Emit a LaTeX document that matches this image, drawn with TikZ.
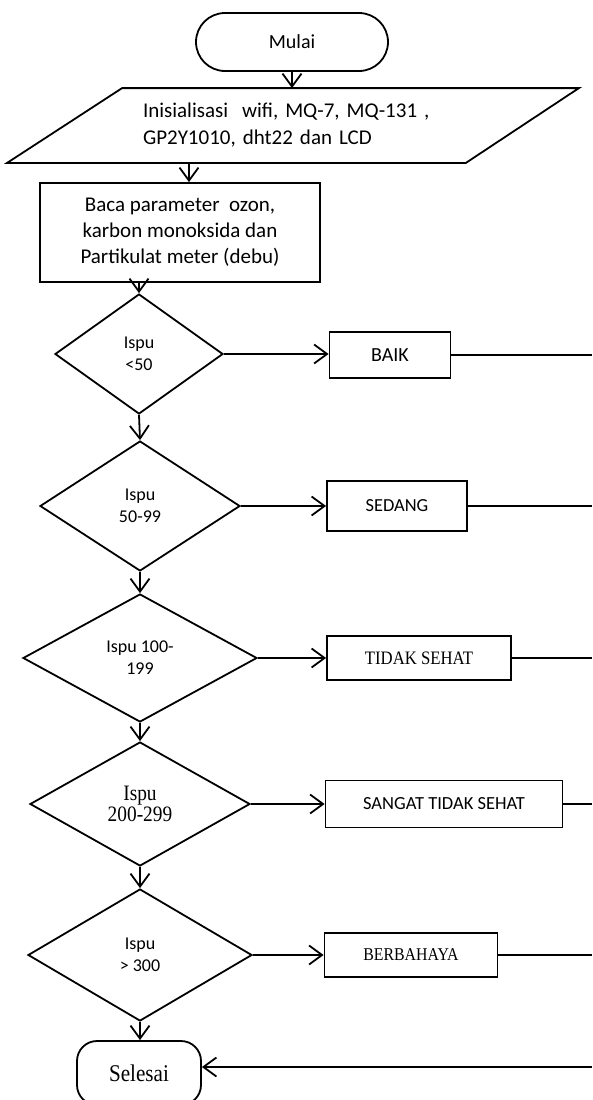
\documentclass[tikz,border=0pt]{standalone}
\usepackage{fontspec}
\setmainfont{Carlito}
\newfontfamily\cambriaish[FakeStretch=0.88]{Liberation Serif}
\usetikzlibrary{shapes.geometric,shapes.misc,arrows.meta}
\begin{document}
\begin{tikzpicture}[x=1pt,y=-1pt,line width=1.8pt,
  box/.style={draw, rectangle, inner sep=0pt, align=center},
  term/.style={draw, rounded rectangle, inner sep=0pt, align=center},
  endbox/.style={draw, rectangle, rounded corners=20pt, inner sep=0pt, align=center},
  dec/.style={draw, diamond, inner sep=0pt, align=center},
  arr/.style={-{Straight Barb[length=13pt,width=19pt]}},
  calA/.style={font=\fontsize{21}{26}\selectfont},
  calB/.style={font=\fontsize{18}{22}\selectfont},
  serB/.style={font=\cambriaish\fontsize{22}{21}\selectfont}]
\useasboundingbox (0,0) rectangle (592,1100);
\coordinate (edge) at (592,0);

\node[term, minimum width=192pt, minimum height=58pt, font=\fontsize{20}{24}\selectfont] (mulai) at (292,42) {\raisebox{-5pt}{Mulai}};

\node[inner xsep=20pt, inner ysep=0pt, minimum width=342pt, minimum height=73pt, text width=302pt, align=left, font=\fontsize{21}{27}\selectfont] (init) at (294,125.5) {Inisialisasi\ \ wifi, MQ-7, MQ-131 ,\\GP2Y1010, dht22 dan LCD};
\draw ([xshift=-115pt]init.south west) -- (init.south east) -- ([xshift=113pt]init.north east) -- (init.north west) -- cycle;

\node[box, minimum width=280pt, minimum height=99pt, calA] (baca) at (180,232.5) {Baca parameter\ \ ozon,\\karbon monoksida dan\\Partikulat meter (debu)};

\node[dec, minimum width=168pt, minimum height=120pt, calB] (d1) at (139,354) {Ispu\\<50};
\node[dec, minimum width=200pt, minimum height=130pt, calB] (d2) at (140,506) {Ispu\\50-99};
\node[dec, minimum width=234pt, minimum height=128pt, calB] (d3) at (140,658) {Ispu 100-\\199};
\node[dec, minimum width=220pt, minimum height=124pt, serB] (d4) at (140,804) {Ispu\\200-299};
\node[dec, minimum width=224pt, minimum height=132pt, calB] (d5) at (140,955) {Ispu\\> 300};

\node[box, minimum width=121pt, minimum height=46pt, font=\fontsize{20}{24}\selectfont] (baik) at (390,355) {BAIK};
\node[box, minimum width=140pt, minimum height=50pt, font=\fontsize{18.4}{22}\selectfont] (sedang) at (397,506) {SEDANG};
\node[box, minimum width=184pt, minimum height=44pt, font=\cambriaish\fontsize{19}{22}\selectfont] (tidak) at (419,658) {TIDAK SEHAT};
\node[box, minimum width=237pt, minimum height=47pt, font=\fontsize{18.5}{22}\selectfont] (sangat) at (444,804) {SANGAT TIDAK SEHAT};
\node[box, minimum width=173pt, minimum height=44pt, font=\cambriaish\fontsize{18}{22}\selectfont] (bahaya) at (411,955) {BERBAHAYA};

\node[endbox, minimum width=124pt, minimum height=64pt, font=\cambriaish\fontsize{24}{26}\selectfont] (selesai) at (139,1073) {Selesai};

% main flow
\draw[arr] (mulai.south) -- (mulai.south |- init.north);
\draw[arr] ([xshift=9pt]baca.north |- init.south) -- ([xshift=9pt]baca.north);
\draw[arr] (baca.south -| d1.north) -- (d1.north);
\draw[arr] (d1.south) -- (d2.north);
\draw[arr] (d2.south) -- (d3.north);
\draw[arr] (d3.south) -- (d4.north);
\draw[arr] (d4.south) -- (d5.north);
\draw[arr] (d5.south) -- (d5.south |- selesai.north);

% branches
\draw[arr] (d1.east) -- (d1.east -| baik.west);
\draw[arr] (d2.east) -- (d2.east -| sedang.west);
\draw[arr] (d3.east) -- (d3.east -| tidak.west);
\draw[arr] (d4.east) -- (d4.east -| sangat.west);
\draw[arr] (d5.east) -- (d5.east -| bahaya.west);

\draw (baik.east) -- (baik.east -| edge);
\draw (sedang.east) -- (sedang.east -| edge);
\draw (tidak.east) -- (tidak.east -| edge);
\draw (sangat.east) -- (sangat.east -| edge);
\draw (bahaya.east) -- (bahaya.east -| edge);
\draw[arr] ([yshift=6pt]selesai.east -| edge) -- ([yshift=6pt]selesai.east);
\end{tikzpicture}
\end{document}
